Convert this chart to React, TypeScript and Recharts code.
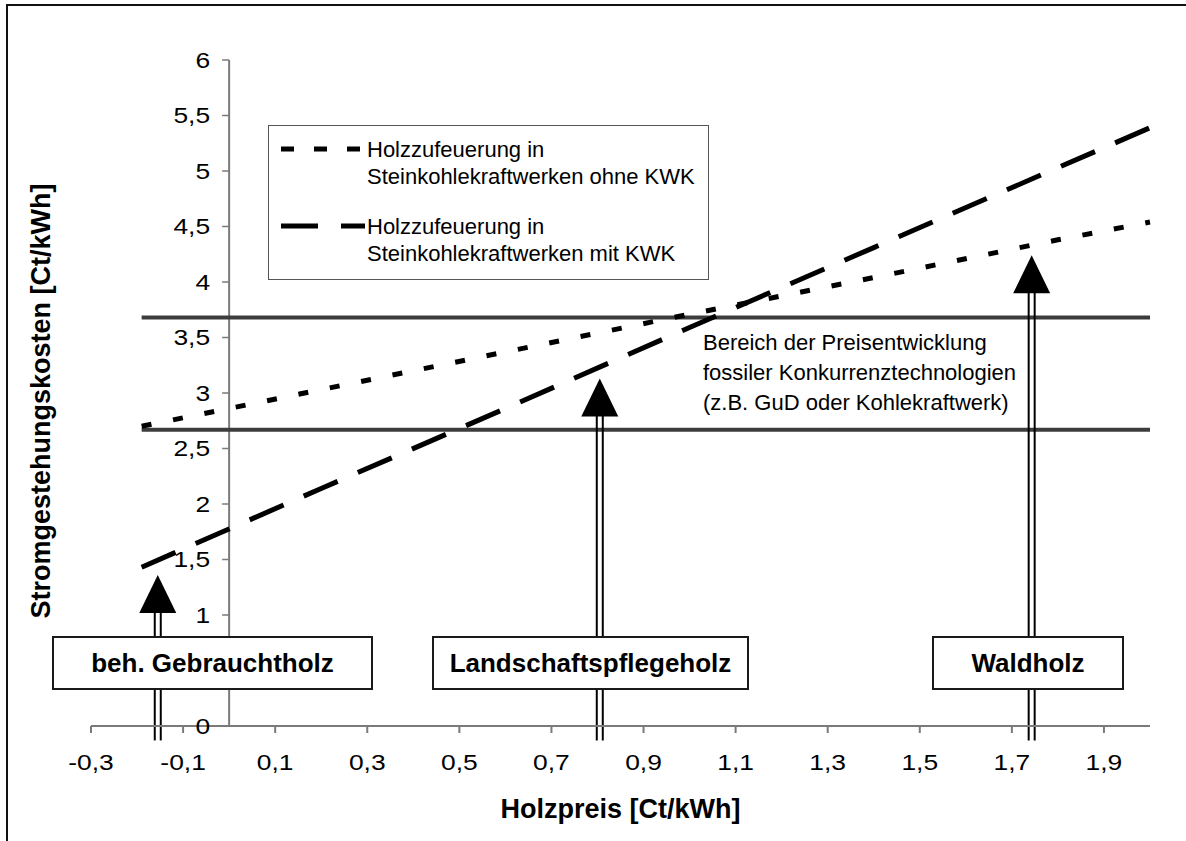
import React from 'react';
import {
  Legend,
  Line,
  LineChart,
  ReferenceLine,
  XAxis,
  YAxis,
} from 'recharts';

// Holzpreis [Ct/kWh] vs. Stromgestehungskosten [Ct/kWh]
const woodPrice = [-0.19, 0.2, 0.6, 1.0, 1.4, 1.8, 2.0];
const costWithoutChp = [2.7, 3.03, 3.37, 3.71, 4.04, 4.38, 4.54];
const costWithChp = [1.43, 2.14, 2.86, 3.59, 4.31, 5.03, 5.39];

// band of fossil competitor prices
const fossilRangeX = [-0.19, 2.0];
const fossilRange = [2.67, 3.68];

// wood categories marked with arrows
const woodTypes = ['beh. Gebrauchtholz', 'Landschaftspflegeholz', 'Waldholz'];
const woodTypePrice = [-0.155, 0.805, 1.743];
const woodTypeCost = [1.36, 3.13, 4.24];
const arrowFoot = -0.13;

const xTicks = [-0.3, -0.1, 0.1, 0.3, 0.5, 0.7, 0.9, 1.1, 1.3, 1.5, 1.7, 1.9];
const yTicks = [0, 1, 1.5, 2, 2.5, 3, 3.5, 4, 4.5, 5, 5.5, 6];
const X_MIN = -0.3;
const X_MAX = 2.0;

const seriesNames = [
  ['Holzzufeuerung in', 'Steinkohlekraftwerken ohne KWK'],
  ['Holzzufeuerung in', 'Steinkohlekraftwerken mit KWK'],
];
const rangeText = [
  'Bereich der Preisentwicklung',
  'fossiler Konkurrenztechnologien',
  '(z.B. GuD oder Kohlekraftwerk)',
];

const W = 1186;
const H = 841;
const MARGIN = { top: 60, right: 36, bottom: 75, left: 31 };
const Y_AXIS_W = 60;
const PLOT_W = W - MARGIN.left - MARGIN.right - Y_AXIS_W;
const Y_SHIFT = (PLOT_W * (0 - X_MIN)) / (X_MAX - X_MIN);

const FONT = '"Liberation Sans", Arial, sans-serif';
const AXIS = '#7a7a7a';
const BAND = '#3c3c3c';
const DOTS = '10 22';
const DASHES = '37 22';
const TICK_FONT = 22;
const TICK_STRETCH = 1.2;

const fmt = (v: number) => String(Math.round(v * 10) / 10).replace('.', ',');

const withoutChp = woodPrice.map((x, i) => ({ x, y: costWithoutChp[i] }));
const withChp = woodPrice.map((x, i) => ({ x, y: costWithChp[i] }));
const bands = fossilRange.map((y) => fossilRangeX.map((x) => ({ x, y })));

const XTick = (props: any) => {
  const { x, y, payload } = props;
  return (
    <text
      transform={`translate(${x},${y}) scale(${TICK_STRETCH},1)`}
      dy="0.68em"
      textAnchor="middle"
      fontSize={TICK_FONT}
      fontFamily={FONT}
      fill="#000"
    >
      {fmt(payload.value)}
    </text>
  );
};

const YTick = (props: any) => {
  const { x, y, payload } = props;
  const ax = x + Y_SHIFT;
  return (
    <g>
      <line x1={ax - 7} x2={ax} y1={y} y2={y} stroke={AXIS} strokeWidth={1.5} />
      <text
        transform={`translate(${ax - 19},${y}) scale(${TICK_STRETCH},1)`}
        dy="0.355em"
        textAnchor="end"
        fontSize={TICK_FONT}
        fontFamily={FONT}
        fill="#000"
      >
        {fmt(payload.value)}
      </text>
    </g>
  );
};

const YTitle = (props: any) => {
  const { viewBox } = props;
  const cx = viewBox.x + 9;
  const cy = viewBox.y + viewBox.height / 2 + 8;
  return (
    <text
      transform={`translate(${cx},${cy}) rotate(-90)`}
      dy="0.355em"
      textAnchor="middle"
      fontSize={27}
      fontWeight="bold"
      fontFamily={FONT}
      fill="#000"
    >
      Stromgestehungskosten [Ct/kWh]
    </text>
  );
};

const Arrow = (props: any) => {
  const { x1, y1, y2 } = props;
  const top = Math.min(y1, y2);
  const bottom = Math.max(y1, y2);
  const head = 38;
  return (
    <g>
      <line x1={x1 - 3} x2={x1 - 3} y1={top + head - 1} y2={bottom} stroke="#000" strokeWidth={2} />
      <line x1={x1 + 3} x2={x1 + 3} y1={top + head - 1} y2={bottom} stroke="#000" strokeWidth={2} />
      <polygon
        points={`${x1},${top} ${x1 - 18.5},${top + head} ${x1 + 18.5},${top + head}`}
        fill="#000"
      />
    </g>
  );
};

const LegendBox = () => (
  <div
    style={{
      width: 441,
      height: 155,
      boxSizing: 'border-box',
      border: '1px solid #555',
      background: '#fff',
      fontFamily: FONT,
      fontSize: 22,
      lineHeight: '27px',
      position: 'relative',
    }}
  >
    {seriesNames.map((lines, i) => (
      <div
        key={i}
        style={{ position: 'absolute', left: 98, top: 10 + i * 77 }}
      >
        {lines.map((l) => (
          <div key={l}>{l}</div>
        ))}
      </div>
    ))}
    <svg width={100} height={155} style={{ position: 'absolute', left: 0, top: 0 }}>
      <line x1={12} x2={91} y1={23} y2={23} stroke="#000" strokeWidth={5} strokeDasharray="13 20" />
      <line x1={12} x2={96} y1={100} y2={100} stroke="#000" strokeWidth={5} strokeDasharray="37 23" />
    </svg>
  </div>
);

const boxes = [
  { left: 52, width: 321 },
  { left: 432, width: 317 },
  { left: 932, width: 192 },
];

export default function App() {
  return (
    <div
      style={{
        position: 'absolute',
        left: 0,
        top: 0,
        width: W,
        height: H,
        overflow: 'hidden',
        background: '#fff',
        fontFamily: FONT,
      }}
    >
      <div
        style={{
          position: 'absolute',
          left: 6,
          top: 4,
          width: 1400,
          height: 1200,
          border: '2px solid #111',
        }}
      />
      <LineChart width={W} height={H} margin={MARGIN} style={{ position: 'absolute', left: 0, top: 0 }}>
        <XAxis
          dataKey="x"
          type="number"
          domain={[X_MIN, X_MAX]}
          ticks={xTicks}
          interval={0}
          stroke={AXIS}
          strokeWidth={2}
          tickSize={7}
          tickMargin={22}
          height={40}
          tick={<XTick />}
          label={{
            value: 'Holzpreis [Ct/kWh]',
            position: 'bottom',
            offset: 33,
            style: { fontSize: 27, fontWeight: 'bold', fontFamily: FONT, fill: '#000' },
          }}
        />
        <YAxis
          type="number"
          domain={[0, 6]}
          ticks={yTicks}
          interval={0}
          width={Y_AXIS_W}
          axisLine={false}
          tickLine={false}
          tickSize={0}
          tickMargin={0}
          tick={<YTick />}
          label={<YTitle />}
        />
        <ReferenceLine
          segment={[
            { x: 0, y: 0 },
            { x: 0, y: 6 },
          ]}
          stroke={AXIS}
          strokeWidth={2}
          ifOverflow="visible"
        />
        {bands.map((d, i) => (
          <Line
            key={`band${i}`}
            data={d}
            dataKey="y"
            stroke={BAND}
            strokeWidth={4}
            dot={false}
            legendType="none"
            isAnimationActive={false}
          />
        ))}
        <Line
          data={withoutChp}
          dataKey="y"
          name={seriesNames[0].join(' ')}
          stroke="#000"
          strokeWidth={5}
          strokeDasharray={DOTS}
          dot={false}
          isAnimationActive={false}
        />
        <Line
          data={withChp}
          dataKey="y"
          name={seriesNames[1].join(' ')}
          stroke="#000"
          strokeWidth={5}
          strokeDasharray={DASHES}
          dot={false}
          isAnimationActive={false}
        />
        {woodTypePrice.map((x, i) => (
          <ReferenceLine
            key={woodTypes[i]}
            segment={[
              { x, y: arrowFoot },
              { x, y: woodTypeCost[i] },
            ]}
            ifOverflow="visible"
            shape={<Arrow />}
          />
        ))}
        <Legend
          layout="horizontal"
          verticalAlign="middle"
          align="center"
          content={<LegendBox />}
          wrapperStyle={{ left: 268, top: 125, width: 441, height: 155 }}
        />
      </LineChart>
      <div
        style={{
          position: 'absolute',
          left: 703,
          top: 328,
          fontSize: 22,
          lineHeight: '30px',
          color: '#000',
        }}
      >
        {rangeText.map((t) => (
          <div key={t}>{t}</div>
        ))}
      </div>
      {boxes.map((b, i) => (
        <div
          key={woodTypes[i]}
          style={{
            position: 'absolute',
            left: b.left,
            top: 636,
            width: b.width,
            height: 54,
            boxSizing: 'border-box',
            border: '2px solid #1a1a1a',
            background: '#fff',
            display: 'flex',
            alignItems: 'center',
            justifyContent: 'center',
            fontSize: 26,
            fontWeight: 'bold',
            color: '#000',
          }}
        >
          {woodTypes[i]}
        </div>
      ))}
    </div>
  );
}
